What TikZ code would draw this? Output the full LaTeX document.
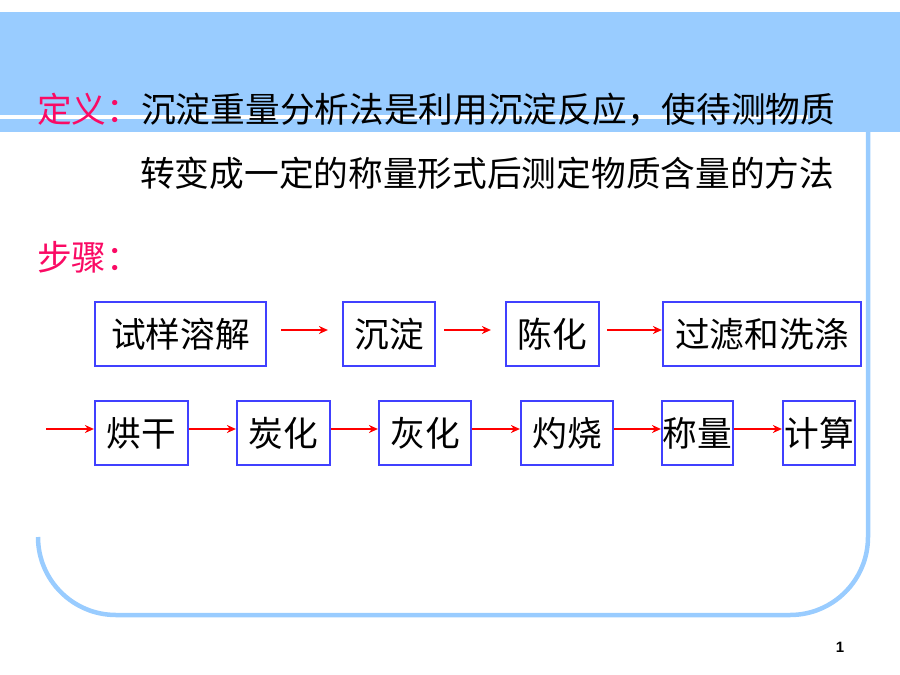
\documentclass[tikz,border=0pt]{standalone}
\usepackage{fontspec}
\setmainfont{Noto Sans CJK SC}
\newfontfamily\numfont{Liberation Sans}
\usetikzlibrary{arrows.meta}
\definecolor{bandblue}{RGB}{153,204,255}
\definecolor{boxblue}{RGB}{64,64,255}
\definecolor{titlepink}{RGB}{250,10,100}
\tikzset{
  big/.style={font=\fontsize{34.7pt}{40pt}\selectfont, inner sep=0pt},
  stepbox/.style={big, draw=boxblue, line width=2.2pt, minimum height=64pt,
    text height=30.5pt, text depth=4.2pt, align=center},
  arr/.style={draw=red, line width=2.4pt, -{Stealth[length=9pt,width=8pt]}},
  frame/.style={draw=bandblue, line width=4.5pt}
}
\begin{document}
\begin{tikzpicture}[x=1pt,y=-1pt]
\useasboundingbox (0,0) rectangle (900,675);
% top band
\fill[bandblue] (0,12) rectangle (900,132);
\fill[white] (0,115) rectangle (808,118.5);
% frame
\draw[frame] (868,130) -- (868,537) arc[start angle=0,end angle=-90,radius=78pt] -- (116,615)
  arc[start angle=-90,end angle=-180,radius=78pt];
% heading text
\node[big, anchor=base west, text=titlepink] (def) at (37,122) {定义：};
\node[big, anchor=base west] (l1) at (141,122) {沉淀重量分析法是利用沉淀反应，使待测物质};
\node[big, anchor=base west] (l2) at (140,186) {转变成一定的称量形式后测定物质含量的方法};
\node[big, anchor=base west, text=titlepink] (steps) at (37,270) {步骤：};
% row 1
\node[stepbox, minimum width=171pt] (b1) at (180.5,334) {试样溶解};
\node[stepbox, minimum width=92pt] (b2) at (389,334) {沉淀};
\node[stepbox, minimum width=93pt] (b3) at (552.5,334) {陈化};
\node[stepbox, minimum width=198pt] (b4) at (762,334) {过滤和洗涤};
% row 2
\node[stepbox, minimum width=93pt] (c1) at (141.5,433) {烘干};
\node[stepbox, minimum width=93pt] (c2) at (283.5,433) {炭化};
\node[stepbox, minimum width=92pt] (c3) at (425,433) {灰化};
\node[stepbox, minimum width=92pt] (c4) at (567,433) {灼烧};
\node[stepbox, minimum width=71pt] (c5) at (697.5,433) {称量};
\node[stepbox, minimum width=72pt] (c6) at (819,433) {计算};
\coordinate (start) at (46,429);
% arrows
\draw[arr, shorten <=14pt, shorten >=14pt] ([yshift=4pt]b1.east) -- ([yshift=4pt]b2.west);
\draw[arr, shorten <=8pt, shorten >=14pt] ([yshift=4pt]b2.east) -- ([yshift=4pt]b3.west);
\draw[arr, shorten <=7pt] ([yshift=4pt]b3.east) -- ([yshift=4pt]b4.west);
\draw[arr] (start) -- ([yshift=4pt]c1.west);
\draw[arr] ([yshift=4pt]c1.east) -- ([yshift=4pt]c2.west);
\draw[arr] ([yshift=4pt]c2.east) -- ([yshift=4pt]c3.west);
\draw[arr] ([yshift=4pt]c3.east) -- ([yshift=4pt]c4.west);
\draw[arr] ([yshift=4pt]c4.east) -- ([yshift=4pt]c5.west);
\draw[arr] ([yshift=4pt]c5.east) -- ([yshift=4pt]c6.west);
% page number
\node[font=\numfont\bfseries\fontsize{15pt}{18pt}\selectfont, inner sep=0pt] (pg) at (840,647) {1};
\end{tikzpicture}
\end{document}
